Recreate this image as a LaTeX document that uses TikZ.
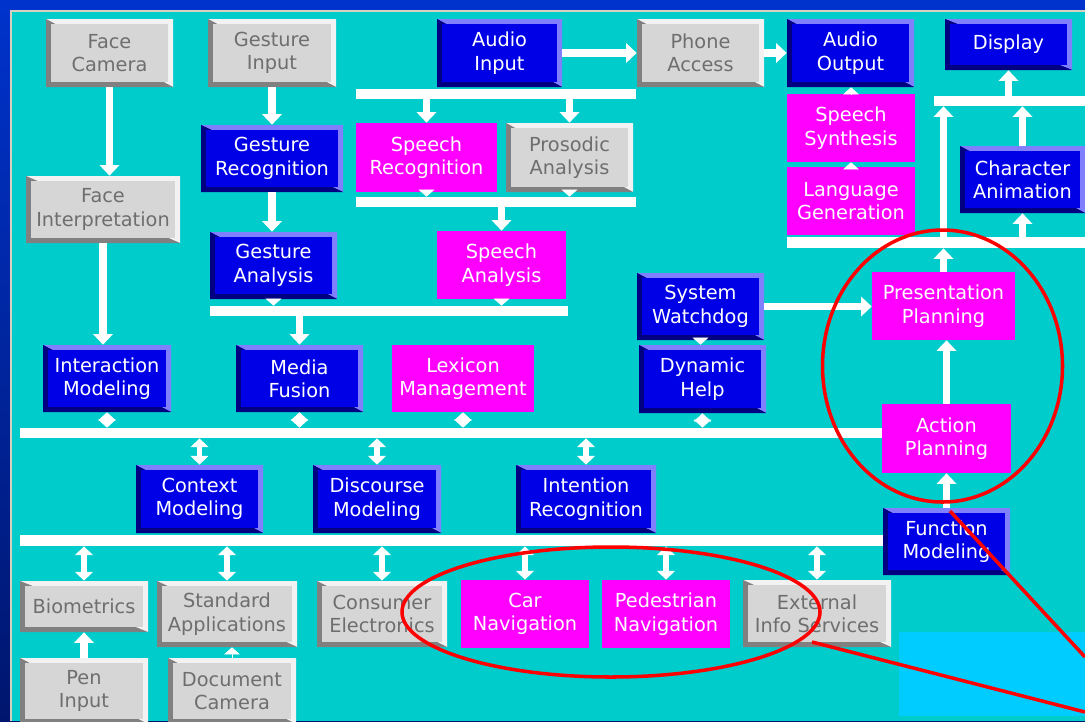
\documentclass[tikz,border=0pt]{standalone}
\usepackage{fontspec}
\newfontfamily\boxfont{DejaVu Sans}
\usetikzlibrary{arrows.meta}

\definecolor{slideblue}{RGB}{0,51,204}
\definecolor{slidedark}{RGB}{0,22,110}
\definecolor{framebeige}{RGB}{214,208,190}
\definecolor{panelteal}{RGB}{0,204,204}
\definecolor{panelcyan}{RGB}{0,204,255}
\definecolor{bluebx}{RGB}{0,0,230}
\definecolor{bluelt}{RGB}{128,128,255}
\definecolor{bluedk}{RGB}{0,0,128}
\definecolor{graybx}{RGB}{214,214,214}
\definecolor{graylt}{RGB}{242,242,242}
\definecolor{graydk}{RGB}{128,128,128}
\definecolor{graytxt}{RGB}{110,110,110}
\definecolor{pinkbx}{RGB}{255,0,255}
\definecolor{markred}{RGB}{255,0,0}

\tikzset{
  module/.style 2 args={inner sep=0pt, align=center,
    font=\boxfont\fontsize{11}{13.3}\selectfont,
    minimum width=#1*0.02cm, minimum height=#2*0.02cm},
  raised/.style n args={3}{fill=#3, path picture={
      \fill[#1] (path picture bounding box.north west) -- (path picture bounding box.north east)
        -- (path picture bounding box.south east) -- cycle;
      \fill[#2] (path picture bounding box.north west) -- (path picture bounding box.south west)
        -- (path picture bounding box.south east) -- cycle;
      \fill[#3] ([shift={(2.8pt,-2.8pt)}]path picture bounding box.north west)
        rectangle ([shift={(-2.8pt,2.8pt)}]path picture bounding box.south east);
    }},
  bluebox/.style={raised={bluelt}{bluedk}{bluebx}, text=white},
  graybox/.style={raised={graylt}{graydk}{graybx}, text=graytxt},
  pinkbox/.style={fill=pinkbx, text=white},
  bus/.style 2 args={fill=white, inner sep=0pt,
    minimum width=#1*0.02cm, minimum height=#2*0.02cm},
  arr/.style={draw=white, line width=4pt, -{Triangle[width=11pt,length=6pt]}},
  dbl/.style={draw=white, line width=3pt,
    {Triangle[width=10pt,length=5pt]}-{Triangle[width=10pt,length=5pt]}},
  diam/.style={draw=white, line width=0.2pt,
    {Triangle[width=10pt,length=4.6pt]}-{Triangle[width=10pt,length=4.6pt]}},
  tri/.style={draw=white, line width=0.2pt, -{Triangle[width=9pt,length=4pt]}},
  redmark/.style={draw=markred, line width=2pt}
}

\begin{document}
\begin{tikzpicture}[x=0.02cm, y=-0.02cm]
    \useasboundingbox (0,0) rectangle (1085,721);
    \shade[top color=slideblue, bottom color=slidedark] (0,0) rectangle (1085,721);
    \fill[panelteal] (11,11) rectangle (1085,721);
    \draw[framebeige, line width=1.2pt] (11,721) -- (11,11) -- (1085,11);
    \fill[panelcyan] (899,632) rectangle (1085,716);

    \node[graybox, module={127}{68}] (facecam) at (109.5,53) {Face\\Camera};
    \node[graybox, module={128}{68}] (gestin) at (272,53) {Gesture\\Input};
    \node[bluebox, module={125}{68}] (audin) at (499.5,53) {Audio\\Input};
    \node[graybox, module={127}{68}] (phone) at (700.5,53) {Phone\\Access};
    \node[bluebox, module={127}{68}] (audout) at (850.5,53) {Audio\\Output};
    \node[bluebox, module={127}{51}] (display) at (1008.5,44.5) {Display};

    \node[bluebox, module={142}{67}] (gestrec) at (272,158.5) {Gesture\\Recognition};
    \node[pinkbox, module={141}{69}] (sprec) at (426.5,157.5) {Speech\\Recognition};
    \node[graybox, module={127}{69}] (prosod) at (569.5,157.5) {Prosodic\\Analysis};
    \node[graybox, module={154}{67}] (faceint) at (103,209.5) {Face\\Interpretation};
    \node[bluebox, module={127}{67}] (gestan) at (273.5,265.5) {Gesture\\Analysis};
    \node[pinkbox, module={129}{68}] (spana) at (501.5,265) {Speech\\Analysis};

    \node[pinkbox, module={128}{68}] (sps) at (851,128) {Speech\\Synthesis};
    \node[pinkbox, module={128}{68}] (langgen) at (851,201) {Language\\Generation};
    \node[bluebox, module={125}{67}] (charan) at (1022.5,179.5) {Character\\Animation};
    \node[bluebox, module={127}{67}] (watch) at (700.5,306.5) {System\\Watchdog};
    \node[pinkbox, module={143}{68}] (pplan) at (943.5,306) {Presentation\\Planning};

    \node[bluebox, module={128}{67}] (intm) at (107,378.5) {Interaction\\Modeling};
    \node[bluebox, module={127}{67}] (mfus) at (299.5,378.5) {Media\\Fusion};
    \node[pinkbox, module={142}{67}] (lex) at (463,378.5) {Lexicon\\Management};
    \node[bluebox, module={127}{68}] (dynh) at (702.5,379) {Dynamic\\Help};
    \node[pinkbox, module={129}{69}] (aplan) at (946.5,438.5) {Action\\Planning};

    \node[bluebox, module={127}{68}] (ctx) at (199.5,499) {Context\\Modeling};
    \node[bluebox, module={128}{68}] (disc) at (377,499) {Discourse\\Modeling};
    \node[bluebox, module={140}{68}] (intent) at (586,499) {Intention\\Recognition};
    \node[bluebox, module={127}{67}] (fmod) at (946.5,541.5) {Function\\Modeling};

    \node[graybox, module={128}{51}] (biom) at (84,606.5) {Biometrics};
    \node[graybox, module={140}{66}] (stdapp) at (227,614) {Standard\\Applications};
    \node[graybox, module={130}{66}] (cons) at (382,614) {Consumer\\Electronics};
    \node[pinkbox, module={128}{68}] (car) at (525,614) {Car\\Navigation};
    \node[pinkbox, module={128}{68}] (ped) at (666,614) {Pedestrian\\Navigation};
    \node[graybox, module={148}{67}] (ext) at (817,613.5) {External\\Info Services};
    \node[graybox, module={128}{66}] (pen) at (84,691) {Pen\\Input};
    \node[graybox, module={128}{66}] (doccam) at (232,691) {Document\\Camera};

    \node[bus={280}{10}] (baraud) at (496,94) {};
    \node[bus={280}{10}] (barspr) at (496,202) {};
    \node[bus={358}{10}] (barana) at (389,311) {};
    \node[bus={862}{10}] (busa) at (451,433) {};
    \node[bus={863}{11}] (busb) at (451.5,540.5) {};
    \node[bus={303}{11}] (barout) at (938.5,242.5) {};
    \node[bus={157}{10}] (bardisp) at (1012.5,101) {};

    \draw[arr] (facecam.south) -- (facecam.south |- faceint.north);
    \draw[arr] (faceint.south) -- (faceint.south |- intm.north);
    \draw[arr] (gestin.south) -- (gestin.south |- gestrec.north);
    \draw[arr] (gestrec.south) -- (gestrec.south |- gestan.north);
    \draw[arr] (audin.east) -- (audin.east -| phone.west);
    \draw[arr] (phone.east) -- (phone.east -| audout.west);
    \draw[arr] (sprec.north |- baraud.south) -- (sprec.north);
    \draw[arr] (prosod.north |- baraud.south) -- (prosod.north);
    \draw[arr] (spana.north |- barspr.south) -- (spana.north);
    \draw[arr] (mfus.north |- barana.south) -- (mfus.north);
    \draw[arr] (pen.north) -- (pen.north |- biom.south);
    \draw[arr] (fmod.north) -- (fmod.north |- aplan.south);
    \draw[arr] (aplan.north) -- (aplan.north |- pplan.south);
    \draw[arr] (watch.east) -- (watch.east -| pplan.west);
    \draw[arr] (pplan.north) -- (pplan.north |- barout.south);
    \draw[arr] (pplan.north |- barout.north) -- (pplan.north |- bardisp.south);
    \draw[arr] (charan.south |- barout.north) -- (charan.south);
    \draw[arr] (charan.north) -- (charan.north |- bardisp.south);
    \draw[arr] (display.south |- bardisp.north) -- (display.south);

    \draw[tri] (sprec.south) -- (sprec.south |- barspr.north);
    \draw[tri] (prosod.south) -- (prosod.south |- barspr.north);
    \draw[tri] (gestan.south) -- (gestan.south |- barana.north);
    \draw[tri] (spana.south) -- (spana.south |- barana.north);
    \draw[tri] (watch.south) -- (watch.south |- dynh.north);
    \draw[tri] (langgen.north) -- (langgen.north |- sps.south);
    \draw[tri] (sps.north) -- (sps.north |- audout.south);
    \draw[tri] (doccam.north) -- (doccam.north |- stdapp.south);

    \foreach \m in {intm,mfus,lex,dynh}
        \draw[diam] (\m.south) -- (\m.south |- busa.north);
    \foreach \m in {ctx,disc,intent}
        \draw[dbl] (\m.north |- busa.south) -- (\m.north);
    \foreach \m in {biom,stdapp,cons,car,ped,ext}
        \draw[dbl] (\m.north |- busb.south) -- (\m.north);

    \draw[redmark] (942.5,366) ellipse [x radius=120, y radius=136];
    \draw[redmark] (611,612) ellipse [x radius=209, y radius=65];
    \draw[redmark] (950,511) -- (1085,657);
    \draw[redmark] (812,642) -- (1085,712);
\end{tikzpicture}
\end{document}
